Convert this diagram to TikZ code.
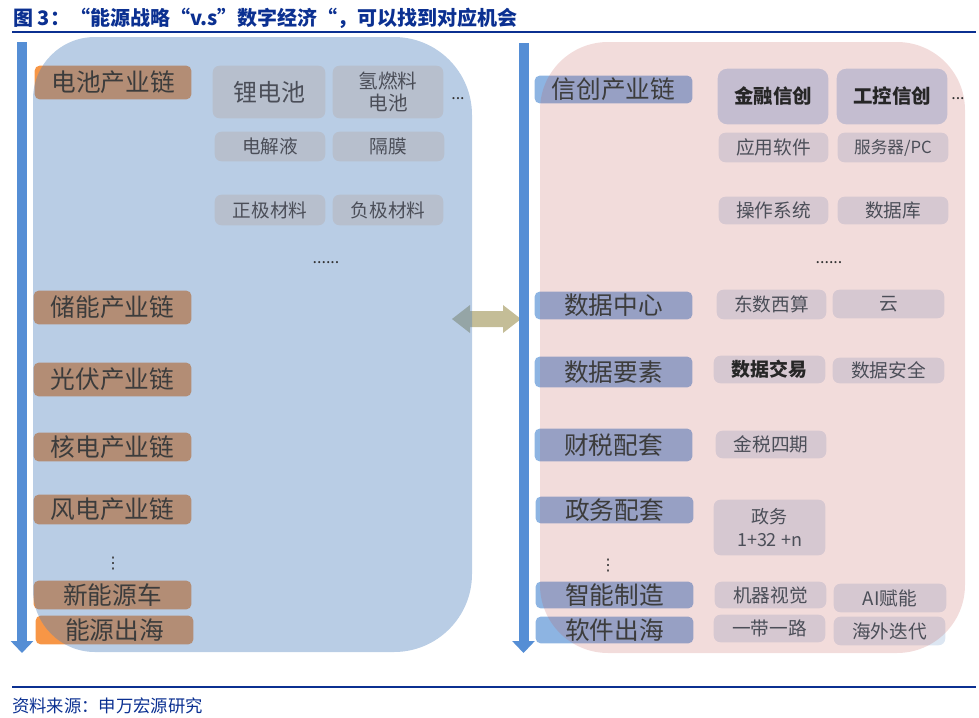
\documentclass[tikz,border=0pt]{standalone}
\usepackage{fontspec}
\setmainfont{Noto Sans CJK SC}
\newfontfamily\djv{DejaVu Sans}
\usetikzlibrary{arrows.meta}
\pgfdeclarelayer{low}\pgfdeclarelayer{mid}\pgfsetlayers{low,mid,main}
\definecolor{titleblue}{HTML}{0B3091}
\definecolor{arrblue}{HTML}{558ED5}
\definecolor{panblue}{HTML}{4F81BD}
\definecolor{panred}{HTML}{C0504D}
\definecolor{lorange}{HTML}{F79646}
\definecolor{lpeach}{HTML}{FDE9D9}
\definecolor{rlblue}{HTML}{8DB4E2}
\definecolor{rpale}{HTML}{DCE6F2}
\definecolor{rbig}{HTML}{C6D9F1}
\definecolor{tanc}{HTML}{C4BD97}
\definecolor{lbltxt}{HTML}{3C3C3C}
\definecolor{subtxt}{HTML}{4B4E58}
\newcommand{\bxat}[7]{\node[#6, minimum width={(#4-#2)*0.75pt}, minimum height={(#5-#3)*0.75pt}] (#1) at ({(#2+#4)/2},{(#3+#5)/2}) {#7};}
\begin{document}
\begin{tikzpicture}[x=0.75pt,y=-0.75pt,
  lab/.style={inner sep=0pt, text=lbltxt, font=\fontsize{18.5}{20}\selectfont},
  sub/.style={inner sep=0pt, text=subtxt, font=\fontsize{14}{16}\selectfont},
  subb/.style={inner sep=0pt, text=black!85, font=\bfseries\fontsize{14.6}{16}\selectfont},
  dots/.style={inner sep=0pt, text=black!80, font=\fontsize{12}{14}\selectfont},
  vdot/.style={inner sep=0pt, text=black!80, font=\djv\fontsize{12}{14}\selectfont},
  rule/.style={titleblue, line width=2.2pt},
  varrow/.style={arrblue, line width=7.5pt, -{Triangle[width=16.5pt,length=9pt]}}]
\useasboundingbox (0,0) rectangle (979,718);

% title and source
\node[anchor=west, inner sep=0pt, text=titleblue, font=\bfseries\fontsize{15}{17}\selectfont] (title) at (13,18) {图 3：“能源战略“v.s”数字经济“，可以找到对应机会};
\coordinate (t1) at (12,32); \coordinate (t2) at (976,32);
\draw[rule] (t1) -- (t2);
\coordinate (b1) at (12,687); \coordinate (b2) at (976,687);
\draw[rule, line width=1.8pt] (b1) -- (b2);
\node[anchor=west, inner sep=0pt, text=titleblue, font=\fontsize{13}{15}\selectfont] (src) at (12,706) {资料来源：申万宏源研究};

% vertical arrows
\coordinate (la1) at (22,42); \coordinate (la2) at (22,653);
\draw[varrow] (la1) -- (la2);
\coordinate (ra1) at (523.5,43); \coordinate (ra2) at (523.5,653);
\draw[varrow] (ra1) -- (ra2);

% left labels
\bxat{L1}{35}{66}{191}{99}{lab}{电池产业链}
\bxat{L2}{34}{291}{191}{324}{lab}{储能产业链}
\bxat{L3}{34}{363}{191}{396}{lab}{光伏产业链}
\bxat{L4}{34}{433}{191}{461}{lab}{核电产业链}
\bxat{L5}{34}{495}{191}{524}{lab}{风电产业链}
\bxat{L6}{34}{581}{191}{609}{lab}{新能源车}
\bxat{L7}{36}{616}{193}{644}{lab}{能源出海}
% left sub boxes
\bxat{S1}{213}{66}{325}{118}{sub, font=\fontsize{18}{20}\selectfont}{锂电池}
\bxat{S2}{333}{66}{443}{118}{sub, align=center, font=\fontsize{14.7}{17}\selectfont}{氢燃料\\电池}
\bxat{S3}{215}{132}{325}{161}{sub}{电解液}
\bxat{S4}{333}{132}{444}{161}{sub}{隔膜}
\bxat{S5}{215}{195}{325}{225}{sub}{正极材料}
\bxat{S6}{333}{195}{443}{225}{sub}{负极材料}
\node[dots] (ld1) at (458,99) {...};
\node[dots] (ld2) at (326,263) {......};
\node[vdot] (ld3) at (113,564) {⋮};

% right labels
\bxat{R1}{535}{76}{692}{103}{lab}{信创产业链}
\bxat{R2}{535}{292}{692}{319}{lab}{数据中心}
\bxat{R3}{535}{357}{692}{387}{lab}{数据要素}
\bxat{R4}{535}{429}{692}{461}{lab}{财税配套}
\bxat{R5}{536}{497}{693}{523}{lab}{政务配套}
\bxat{R6}{536}{582}{693}{608}{lab}{智能制造}
\bxat{R7}{536}{617}{693}{643}{lab}{软件出海}
\node[vdot] (rd3) at (608,566) {⋮};
% right sub boxes
\bxat{T1}{718}{69}{828}{124}{subb}{金融信创}
\bxat{T2}{837}{69}{947}{124}{subb}{工控信创}
\node[dots] (rd1) at (958,99) {...};
\bxat{T3}{719}{133}{828}{162}{sub}{应用软件}
\bxat{T4}{838}{133}{948}{162}{sub, font=\fontsize{12.5}{14}\selectfont}{服务器/PC}
\bxat{T5}{719}{197}{828}{224}{sub}{操作系统}
\bxat{T6}{838}{197}{948}{224}{sub}{数据库}
\node[dots] (rd2) at (829,263) {......};
\bxat{T7}{717}{290}{826}{319}{sub}{东数西算}
\bxat{T8}{833}{290}{944}{318}{sub}{云}
\bxat{T9}{714}{356}{825}{383}{subb, font=\bfseries\fontsize{14.2}{16}\selectfont}{数据交易}
\bxat{T10}{833}{358}{944}{383}{sub}{数据安全}
\bxat{T11}{716}{431}{826}{458}{sub}{金税四期}
\bxat{T12}{714}{500}{825}{555}{sub, align=center, font=\fontsize{13.5}{17}\selectfont}{政务\\1+32 +n}
\bxat{T13}{715}{582}{826}{608}{sub}{机器视觉}
\bxat{T14}{834}{584}{946}{612}{sub}{AI赋能}
\bxat{T15}{714}{615}{825}{642}{sub}{一带一路}
\bxat{T16}{834}{617}{945}{645}{sub}{海外迭代}

% box fills, under the panels
\begin{pgfonlayer}{low}
\foreach \n in {L1,L2,L3,L4,L5,L6,L7}
  \fill[lorange, rounded corners=3.5pt] (\n.south west) rectangle (\n.north east);
\foreach \n in {S1,S2,S3,S4,S5,S6}
  \fill[lpeach, rounded corners=5pt] (\n.south west) rectangle (\n.north east);
\foreach \n in {R1,R2,R3,R4,R5,R6,R7}
  \fill[rlblue, rounded corners=3.5pt] (\n.south west) rectangle (\n.north east);
\foreach \n in {T3,T4,T5,T6,T7,T8,T9,T10,T11,T12,T13,T14,T15,T16}
  \fill[rpale, rounded corners=5pt] (\n.south west) rectangle (\n.north east);
\foreach \n in {T1,T2}
  \fill[rbig, rounded corners=7pt] (\n.south west) rectangle (\n.north east);
% double arrow between the panels
\fill[tanc] (452,319) -- (470,305) -- (470,311) -- (503,311) -- (503,305) -- (521,319)
  -- (503,333) -- (503,327) -- (470,327) -- (470,333) -- cycle;
\end{pgfonlayer}

% panels
\begin{pgfonlayer}{mid}
\fill[panblue, fill opacity=0.4] (33,99) arc[start angle=180, end angle=90, radius=46.5pt]
  -- (394,37) arc[start angle=90, end angle=0, radius=58.5pt]
  -- (472,574) arc[start angle=0, end angle=-90, radius=58.5pt]
  -- (95,652) arc[start angle=-90, end angle=-180, radius=46.5pt] -- cycle;
\fill[panred, fill opacity=0.2] (540,110) arc[start angle=180, end angle=90, radius=51pt]
  -- (897,42) arc[start angle=90, end angle=0, radius=51pt]
  -- (965,585) arc[start angle=0, end angle=-90, radius=51pt]
  -- (608,653) arc[start angle=-90, end angle=-180, radius=51pt] -- cycle;
\end{pgfonlayer}
\end{tikzpicture}
\end{document}
